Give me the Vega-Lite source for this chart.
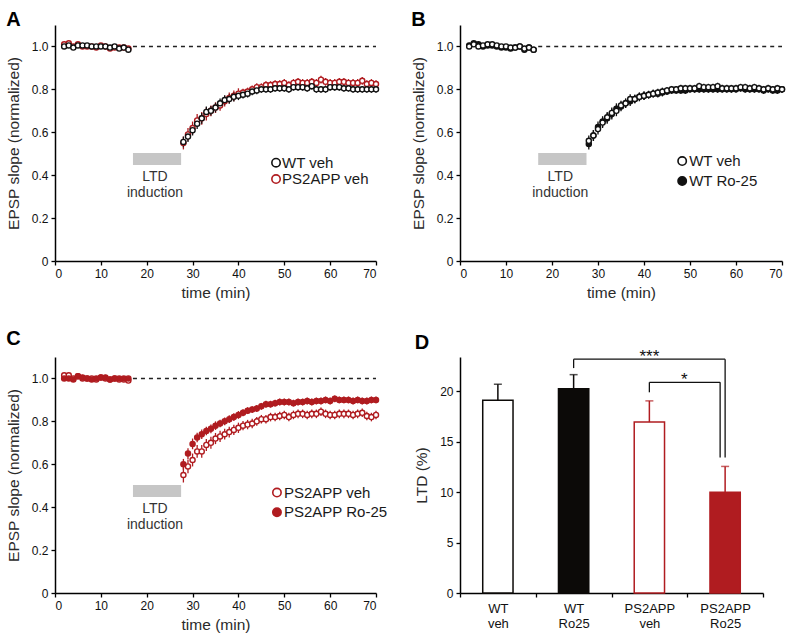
{
"$schema": "https://vega.github.io/schema/vega-lite/v6.json",
"padding": {"left": 6, "top": 10, "right": 5, "bottom": 5},
"bounds": "flush",
"columns": 2,
"spacing": {"row": 96, "column": 84},
"resolve": {"scale": {"x": "independent", "y": "independent", "color": "independent", "fill": "independent", "stroke": "independent"}, "axis": {"x": "independent", "y": "independent"}},
"config": {
"font": "Liberation Sans",
"view": {"stroke": null},
"axis": {"grid": false, "domainColor": "#000", "domainWidth": 1.5, "tickColor": "#000", "tickWidth": 1.3, "tickSize": 4, "labelColor": "#111", "labelFontSize": 12, "labelPadding": 3, "titleColor": "#2a2a2a", "titleFontSize": 15.5, "titleFontWeight": 400},
"title": {"fontSize": 20, "fontWeight": "bold", "anchor": "start", "frame": "bounds", "offset": -5, "color": "#000"}
},
"datasets": {
"ann": [{"lab": "LTD induction"}],
"A": [
{"s":"PS2APP veh","t":2,"y":1.01,"e":0.008},{"s":"PS2APP veh","t":3,"y":1.015,"e":0.008},{"s":"PS2APP veh","t":4,"y":1.0,"e":0.008},{"s":"PS2APP veh","t":5,"y":1.01,"e":0.008},{"s":"PS2APP veh","t":6,"y":1.0,"e":0.008},{"s":"PS2APP veh","t":7,"y":1.0,"e":0.008},{"s":"PS2APP veh","t":8,"y":1.0,"e":0.008},{"s":"PS2APP veh","t":9,"y":0.995,"e":0.008},{"s":"PS2APP veh","t":10,"y":1.005,"e":0.008},{"s":"PS2APP veh","t":11,"y":1.0,"e":0.008},{"s":"PS2APP veh","t":12,"y":0.99,"e":0.008},{"s":"PS2APP veh","t":13,"y":0.995,"e":0.008},{"s":"PS2APP veh","t":14,"y":0.995,"e":0.008},{"s":"PS2APP veh","t":15,"y":0.995,"e":0.008},{"s":"PS2APP veh","t":16,"y":0.99,"e":0.008},
{"s":"PS2APP veh","t":28,"y":0.55,"e":0.03},{"s":"PS2APP veh","t":29,"y":0.59,"e":0.03},{"s":"PS2APP veh","t":30,"y":0.62,"e":0.03},{"s":"PS2APP veh","t":31,"y":0.655,"e":0.03},{"s":"PS2APP veh","t":32,"y":0.665,"e":0.03},{"s":"PS2APP veh","t":33,"y":0.685,"e":0.03},{"s":"PS2APP veh","t":34,"y":0.7,"e":0.025},{"s":"PS2APP veh","t":35,"y":0.715,"e":0.025},{"s":"PS2APP veh","t":36,"y":0.725,"e":0.025},{"s":"PS2APP veh","t":37,"y":0.745,"e":0.025},{"s":"PS2APP veh","t":38,"y":0.76,"e":0.025},{"s":"PS2APP veh","t":39,"y":0.77,"e":0.025},{"s":"PS2APP veh","t":40,"y":0.78,"e":0.025},{"s":"PS2APP veh","t":41,"y":0.785,"e":0.018},{"s":"PS2APP veh","t":42,"y":0.79,"e":0.018},{"s":"PS2APP veh","t":43,"y":0.8,"e":0.018},{"s":"PS2APP veh","t":44,"y":0.81,"e":0.018},{"s":"PS2APP veh","t":45,"y":0.81,"e":0.018},{"s":"PS2APP veh","t":46,"y":0.82,"e":0.018},{"s":"PS2APP veh","t":47,"y":0.82,"e":0.018},{"s":"PS2APP veh","t":48,"y":0.825,"e":0.018},{"s":"PS2APP veh","t":49,"y":0.825,"e":0.018},{"s":"PS2APP veh","t":50,"y":0.83,"e":0.018},{"s":"PS2APP veh","t":51,"y":0.82,"e":0.018},{"s":"PS2APP veh","t":52,"y":0.83,"e":0.018},{"s":"PS2APP veh","t":53,"y":0.835,"e":0.018},{"s":"PS2APP veh","t":54,"y":0.83,"e":0.018},{"s":"PS2APP veh","t":55,"y":0.83,"e":0.018},{"s":"PS2APP veh","t":56,"y":0.835,"e":0.018},{"s":"PS2APP veh","t":57,"y":0.83,"e":0.018},{"s":"PS2APP veh","t":58,"y":0.845,"e":0.018},{"s":"PS2APP veh","t":59,"y":0.835,"e":0.018},{"s":"PS2APP veh","t":60,"y":0.83,"e":0.018},{"s":"PS2APP veh","t":61,"y":0.83,"e":0.018},{"s":"PS2APP veh","t":62,"y":0.835,"e":0.018},{"s":"PS2APP veh","t":63,"y":0.835,"e":0.018},{"s":"PS2APP veh","t":64,"y":0.83,"e":0.018},{"s":"PS2APP veh","t":65,"y":0.83,"e":0.018},{"s":"PS2APP veh","t":66,"y":0.83,"e":0.018},{"s":"PS2APP veh","t":67,"y":0.84,"e":0.018},{"s":"PS2APP veh","t":68,"y":0.825,"e":0.018},{"s":"PS2APP veh","t":69,"y":0.83,"e":0.018},{"s":"PS2APP veh","t":70,"y":0.825,"e":0.018},
{"s":"WT veh","t":2,"y":1.0,"e":0.008},{"s":"WT veh","t":3,"y":1.005,"e":0.008},{"s":"WT veh","t":4,"y":0.995,"e":0.008},{"s":"WT veh","t":5,"y":1.005,"e":0.008},{"s":"WT veh","t":6,"y":1.005,"e":0.008},{"s":"WT veh","t":7,"y":1.005,"e":0.008},{"s":"WT veh","t":8,"y":1.0,"e":0.008},{"s":"WT veh","t":9,"y":1.0,"e":0.008},{"s":"WT veh","t":10,"y":1.0,"e":0.008},{"s":"WT veh","t":11,"y":1.0,"e":0.008},{"s":"WT veh","t":12,"y":0.995,"e":0.008},{"s":"WT veh","t":13,"y":1.0,"e":0.008},{"s":"WT veh","t":14,"y":0.99,"e":0.008},{"s":"WT veh","t":15,"y":0.995,"e":0.008},{"s":"WT veh","t":16,"y":0.985,"e":0.008},
{"s":"WT veh","t":28,"y":0.555,"e":0.025},{"s":"WT veh","t":29,"y":0.58,"e":0.025},{"s":"WT veh","t":30,"y":0.61,"e":0.025},{"s":"WT veh","t":31,"y":0.64,"e":0.025},{"s":"WT veh","t":32,"y":0.665,"e":0.025},{"s":"WT veh","t":33,"y":0.695,"e":0.025},{"s":"WT veh","t":34,"y":0.7,"e":0.022},{"s":"WT veh","t":35,"y":0.715,"e":0.022},{"s":"WT veh","t":36,"y":0.735,"e":0.022},{"s":"WT veh","t":37,"y":0.75,"e":0.022},{"s":"WT veh","t":38,"y":0.755,"e":0.022},{"s":"WT veh","t":39,"y":0.765,"e":0.022},{"s":"WT veh","t":40,"y":0.77,"e":0.02},{"s":"WT veh","t":41,"y":0.775,"e":0.018},{"s":"WT veh","t":42,"y":0.78,"e":0.018},{"s":"WT veh","t":43,"y":0.79,"e":0.018},{"s":"WT veh","t":44,"y":0.795,"e":0.018},{"s":"WT veh","t":45,"y":0.8,"e":0.016},{"s":"WT veh","t":46,"y":0.8,"e":0.016},{"s":"WT veh","t":47,"y":0.8,"e":0.016},{"s":"WT veh","t":48,"y":0.805,"e":0.016},{"s":"WT veh","t":49,"y":0.805,"e":0.016},{"s":"WT veh","t":50,"y":0.805,"e":0.016},{"s":"WT veh","t":51,"y":0.8,"e":0.016},{"s":"WT veh","t":52,"y":0.81,"e":0.016},{"s":"WT veh","t":53,"y":0.81,"e":0.016},{"s":"WT veh","t":54,"y":0.81,"e":0.016},{"s":"WT veh","t":55,"y":0.805,"e":0.016},{"s":"WT veh","t":56,"y":0.815,"e":0.016},{"s":"WT veh","t":57,"y":0.8,"e":0.016},{"s":"WT veh","t":58,"y":0.8,"e":0.016},{"s":"WT veh","t":59,"y":0.8,"e":0.016},{"s":"WT veh","t":60,"y":0.81,"e":0.016},{"s":"WT veh","t":61,"y":0.81,"e":0.016},{"s":"WT veh","t":62,"y":0.81,"e":0.016},{"s":"WT veh","t":63,"y":0.805,"e":0.016},{"s":"WT veh","t":64,"y":0.805,"e":0.016},{"s":"WT veh","t":65,"y":0.8,"e":0.016},{"s":"WT veh","t":66,"y":0.8,"e":0.016},{"s":"WT veh","t":67,"y":0.8,"e":0.016},{"s":"WT veh","t":68,"y":0.8,"e":0.016},{"s":"WT veh","t":69,"y":0.8,"e":0.016},{"s":"WT veh","t":70,"y":0.8,"e":0.016}
],
"B": [
{"s":"WT Ro-25","t":2,"y":1.005,"e":0.008},{"s":"WT Ro-25","t":3,"y":1.015,"e":0.008},{"s":"WT Ro-25","t":4,"y":1.01,"e":0.008},{"s":"WT Ro-25","t":5,"y":1.0,"e":0.008},{"s":"WT Ro-25","t":6,"y":1.005,"e":0.008},{"s":"WT Ro-25","t":7,"y":1.005,"e":0.008},{"s":"WT Ro-25","t":8,"y":1.0,"e":0.008},{"s":"WT Ro-25","t":9,"y":0.995,"e":0.008},{"s":"WT Ro-25","t":10,"y":0.995,"e":0.008},{"s":"WT Ro-25","t":11,"y":0.99,"e":0.008},{"s":"WT Ro-25","t":12,"y":0.995,"e":0.008},{"s":"WT Ro-25","t":13,"y":1.0,"e":0.008},{"s":"WT Ro-25","t":14,"y":0.985,"e":0.008},{"s":"WT Ro-25","t":15,"y":0.995,"e":0.008},{"s":"WT Ro-25","t":16,"y":0.985,"e":0.008},
{"s":"WT Ro-25","t":28,"y":0.545,"e":0.025},{"s":"WT Ro-25","t":29,"y":0.585,"e":0.025},{"s":"WT Ro-25","t":30,"y":0.625,"e":0.025},{"s":"WT Ro-25","t":31,"y":0.65,"e":0.025},{"s":"WT Ro-25","t":32,"y":0.665,"e":0.025},{"s":"WT Ro-25","t":33,"y":0.685,"e":0.025},{"s":"WT Ro-25","t":34,"y":0.71,"e":0.025},{"s":"WT Ro-25","t":35,"y":0.72,"e":0.022},{"s":"WT Ro-25","t":36,"y":0.735,"e":0.022},{"s":"WT Ro-25","t":37,"y":0.745,"e":0.022},{"s":"WT Ro-25","t":38,"y":0.755,"e":0.02},{"s":"WT Ro-25","t":39,"y":0.765,"e":0.02},{"s":"WT Ro-25","t":40,"y":0.77,"e":0.02},{"s":"WT Ro-25","t":41,"y":0.775,"e":0.018},{"s":"WT Ro-25","t":42,"y":0.78,"e":0.018},{"s":"WT Ro-25","t":43,"y":0.78,"e":0.018},{"s":"WT Ro-25","t":44,"y":0.785,"e":0.018},{"s":"WT Ro-25","t":45,"y":0.79,"e":0.016},{"s":"WT Ro-25","t":46,"y":0.795,"e":0.016},{"s":"WT Ro-25","t":47,"y":0.795,"e":0.016},{"s":"WT Ro-25","t":48,"y":0.795,"e":0.016},{"s":"WT Ro-25","t":49,"y":0.795,"e":0.016},{"s":"WT Ro-25","t":50,"y":0.8,"e":0.016},{"s":"WT Ro-25","t":51,"y":0.8,"e":0.016},{"s":"WT Ro-25","t":52,"y":0.8,"e":0.016},{"s":"WT Ro-25","t":53,"y":0.8,"e":0.016},{"s":"WT Ro-25","t":54,"y":0.8,"e":0.016},{"s":"WT Ro-25","t":55,"y":0.8,"e":0.016},{"s":"WT Ro-25","t":56,"y":0.8,"e":0.016},{"s":"WT Ro-25","t":57,"y":0.8,"e":0.016},{"s":"WT Ro-25","t":58,"y":0.8,"e":0.016},{"s":"WT Ro-25","t":59,"y":0.8,"e":0.016},{"s":"WT Ro-25","t":60,"y":0.8,"e":0.016},{"s":"WT Ro-25","t":61,"y":0.805,"e":0.016},{"s":"WT Ro-25","t":62,"y":0.8,"e":0.016},{"s":"WT Ro-25","t":63,"y":0.8,"e":0.016},{"s":"WT Ro-25","t":64,"y":0.8,"e":0.016},{"s":"WT Ro-25","t":65,"y":0.8,"e":0.016},{"s":"WT Ro-25","t":66,"y":0.795,"e":0.016},{"s":"WT Ro-25","t":67,"y":0.8,"e":0.016},{"s":"WT Ro-25","t":68,"y":0.795,"e":0.016},{"s":"WT Ro-25","t":69,"y":0.795,"e":0.016},{"s":"WT Ro-25","t":70,"y":0.8,"e":0.016},
{"s":"WT veh","t":2,"y":1.0,"e":0.008},{"s":"WT veh","t":3,"y":1.01,"e":0.008},{"s":"WT veh","t":4,"y":1.0,"e":0.008},{"s":"WT veh","t":5,"y":1.005,"e":0.008},{"s":"WT veh","t":6,"y":1.01,"e":0.008},{"s":"WT veh","t":7,"y":1.01,"e":0.008},{"s":"WT veh","t":8,"y":1.005,"e":0.008},{"s":"WT veh","t":9,"y":1.0,"e":0.008},{"s":"WT veh","t":10,"y":1.0,"e":0.008},{"s":"WT veh","t":11,"y":0.995,"e":0.008},{"s":"WT veh","t":12,"y":0.995,"e":0.008},{"s":"WT veh","t":13,"y":1.0,"e":0.008},{"s":"WT veh","t":14,"y":0.99,"e":0.008},{"s":"WT veh","t":15,"y":0.995,"e":0.008},{"s":"WT veh","t":16,"y":0.985,"e":0.008},
{"s":"WT veh","t":28,"y":0.56,"e":0.025},{"s":"WT veh","t":29,"y":0.585,"e":0.025},{"s":"WT veh","t":30,"y":0.615,"e":0.025},{"s":"WT veh","t":31,"y":0.645,"e":0.025},{"s":"WT veh","t":32,"y":0.67,"e":0.025},{"s":"WT veh","t":33,"y":0.69,"e":0.025},{"s":"WT veh","t":34,"y":0.7,"e":0.025},{"s":"WT veh","t":35,"y":0.725,"e":0.022},{"s":"WT veh","t":36,"y":0.735,"e":0.022},{"s":"WT veh","t":37,"y":0.755,"e":0.022},{"s":"WT veh","t":38,"y":0.755,"e":0.02},{"s":"WT veh","t":39,"y":0.765,"e":0.02},{"s":"WT veh","t":40,"y":0.77,"e":0.02},{"s":"WT veh","t":41,"y":0.775,"e":0.018},{"s":"WT veh","t":42,"y":0.78,"e":0.018},{"s":"WT veh","t":43,"y":0.785,"e":0.018},{"s":"WT veh","t":44,"y":0.79,"e":0.018},{"s":"WT veh","t":45,"y":0.795,"e":0.016},{"s":"WT veh","t":46,"y":0.8,"e":0.016},{"s":"WT veh","t":47,"y":0.8,"e":0.016},{"s":"WT veh","t":48,"y":0.805,"e":0.016},{"s":"WT veh","t":49,"y":0.805,"e":0.016},{"s":"WT veh","t":50,"y":0.805,"e":0.016},{"s":"WT veh","t":51,"y":0.805,"e":0.016},{"s":"WT veh","t":52,"y":0.815,"e":0.016},{"s":"WT veh","t":53,"y":0.81,"e":0.016},{"s":"WT veh","t":54,"y":0.81,"e":0.016},{"s":"WT veh","t":55,"y":0.81,"e":0.016},{"s":"WT veh","t":56,"y":0.815,"e":0.016},{"s":"WT veh","t":57,"y":0.805,"e":0.016},{"s":"WT veh","t":58,"y":0.805,"e":0.016},{"s":"WT veh","t":59,"y":0.805,"e":0.016},{"s":"WT veh","t":60,"y":0.805,"e":0.016},{"s":"WT veh","t":61,"y":0.81,"e":0.016},{"s":"WT veh","t":62,"y":0.81,"e":0.016},{"s":"WT veh","t":63,"y":0.805,"e":0.016},{"s":"WT veh","t":64,"y":0.81,"e":0.016},{"s":"WT veh","t":65,"y":0.805,"e":0.016},{"s":"WT veh","t":66,"y":0.8,"e":0.016},{"s":"WT veh","t":67,"y":0.805,"e":0.016},{"s":"WT veh","t":68,"y":0.8,"e":0.016},{"s":"WT veh","t":69,"y":0.805,"e":0.016},{"s":"WT veh","t":70,"y":0.8,"e":0.016}
],
"C": [
{"s":"PS2APP veh","t":2,"y":1.015,"e":0.008},{"s":"PS2APP veh","t":3,"y":1.015,"e":0.008},{"s":"PS2APP veh","t":4,"y":1.0,"e":0.008},{"s":"PS2APP veh","t":5,"y":1.01,"e":0.008},{"s":"PS2APP veh","t":6,"y":1.0,"e":0.008},{"s":"PS2APP veh","t":7,"y":1.0,"e":0.008},{"s":"PS2APP veh","t":8,"y":1.0,"e":0.008},{"s":"PS2APP veh","t":9,"y":0.995,"e":0.008},{"s":"PS2APP veh","t":10,"y":1.005,"e":0.008},{"s":"PS2APP veh","t":11,"y":1.0,"e":0.008},{"s":"PS2APP veh","t":12,"y":0.995,"e":0.008},{"s":"PS2APP veh","t":13,"y":1.0,"e":0.008},{"s":"PS2APP veh","t":14,"y":0.995,"e":0.008},{"s":"PS2APP veh","t":15,"y":0.995,"e":0.008},{"s":"PS2APP veh","t":16,"y":0.99,"e":0.008},
{"s":"PS2APP veh","t":28,"y":0.55,"e":0.035},{"s":"PS2APP veh","t":29,"y":0.59,"e":0.032},{"s":"PS2APP veh","t":30,"y":0.62,"e":0.03},{"s":"PS2APP veh","t":31,"y":0.66,"e":0.03},{"s":"PS2APP veh","t":32,"y":0.66,"e":0.03},{"s":"PS2APP veh","t":33,"y":0.69,"e":0.028},{"s":"PS2APP veh","t":34,"y":0.7,"e":0.028},{"s":"PS2APP veh","t":35,"y":0.72,"e":0.026},{"s":"PS2APP veh","t":36,"y":0.73,"e":0.026},{"s":"PS2APP veh","t":37,"y":0.74,"e":0.025},{"s":"PS2APP veh","t":38,"y":0.75,"e":0.025},{"s":"PS2APP veh","t":39,"y":0.76,"e":0.024},{"s":"PS2APP veh","t":40,"y":0.77,"e":0.024},{"s":"PS2APP veh","t":41,"y":0.78,"e":0.022},{"s":"PS2APP veh","t":42,"y":0.785,"e":0.022},{"s":"PS2APP veh","t":43,"y":0.79,"e":0.022},{"s":"PS2APP veh","t":44,"y":0.8,"e":0.02},{"s":"PS2APP veh","t":45,"y":0.81,"e":0.02},{"s":"PS2APP veh","t":46,"y":0.81,"e":0.02},{"s":"PS2APP veh","t":47,"y":0.82,"e":0.02},{"s":"PS2APP veh","t":48,"y":0.82,"e":0.02},{"s":"PS2APP veh","t":49,"y":0.825,"e":0.02},{"s":"PS2APP veh","t":50,"y":0.83,"e":0.02},{"s":"PS2APP veh","t":51,"y":0.82,"e":0.02},{"s":"PS2APP veh","t":52,"y":0.83,"e":0.02},{"s":"PS2APP veh","t":53,"y":0.835,"e":0.02},{"s":"PS2APP veh","t":54,"y":0.835,"e":0.02},{"s":"PS2APP veh","t":55,"y":0.83,"e":0.02},{"s":"PS2APP veh","t":56,"y":0.835,"e":0.02},{"s":"PS2APP veh","t":57,"y":0.835,"e":0.02},{"s":"PS2APP veh","t":58,"y":0.845,"e":0.02},{"s":"PS2APP veh","t":59,"y":0.835,"e":0.02},{"s":"PS2APP veh","t":60,"y":0.83,"e":0.02},{"s":"PS2APP veh","t":61,"y":0.83,"e":0.02},{"s":"PS2APP veh","t":62,"y":0.835,"e":0.02},{"s":"PS2APP veh","t":63,"y":0.835,"e":0.02},{"s":"PS2APP veh","t":64,"y":0.835,"e":0.02},{"s":"PS2APP veh","t":65,"y":0.83,"e":0.02},{"s":"PS2APP veh","t":66,"y":0.835,"e":0.02},{"s":"PS2APP veh","t":67,"y":0.84,"e":0.02},{"s":"PS2APP veh","t":68,"y":0.825,"e":0.02},{"s":"PS2APP veh","t":69,"y":0.82,"e":0.02},{"s":"PS2APP veh","t":70,"y":0.83,"e":0.02},
{"s":"PS2APP Ro-25","t":2,"y":1.0,"e":0.008},{"s":"PS2APP Ro-25","t":3,"y":1.0,"e":0.008},{"s":"PS2APP Ro-25","t":4,"y":0.995,"e":0.008},{"s":"PS2APP Ro-25","t":5,"y":1.01,"e":0.008},{"s":"PS2APP Ro-25","t":6,"y":1.005,"e":0.008},{"s":"PS2APP Ro-25","t":7,"y":1.0,"e":0.008},{"s":"PS2APP Ro-25","t":8,"y":0.995,"e":0.008},{"s":"PS2APP Ro-25","t":9,"y":1.0,"e":0.008},{"s":"PS2APP Ro-25","t":10,"y":1.005,"e":0.008},{"s":"PS2APP Ro-25","t":11,"y":1.005,"e":0.008},{"s":"PS2APP Ro-25","t":12,"y":0.995,"e":0.008},{"s":"PS2APP Ro-25","t":13,"y":1.0,"e":0.008},{"s":"PS2APP Ro-25","t":14,"y":1.0,"e":0.008},{"s":"PS2APP Ro-25","t":15,"y":1.0,"e":0.008},{"s":"PS2APP Ro-25","t":16,"y":1.0,"e":0.008},
{"s":"PS2APP Ro-25","t":28,"y":0.6,"e":0.025},{"s":"PS2APP Ro-25","t":29,"y":0.65,"e":0.025},{"s":"PS2APP Ro-25","t":30,"y":0.695,"e":0.025},{"s":"PS2APP Ro-25","t":31,"y":0.725,"e":0.022},{"s":"PS2APP Ro-25","t":32,"y":0.74,"e":0.022},{"s":"PS2APP Ro-25","t":33,"y":0.755,"e":0.02},{"s":"PS2APP Ro-25","t":34,"y":0.765,"e":0.02},{"s":"PS2APP Ro-25","t":35,"y":0.78,"e":0.02},{"s":"PS2APP Ro-25","t":36,"y":0.79,"e":0.018},{"s":"PS2APP Ro-25","t":37,"y":0.8,"e":0.018},{"s":"PS2APP Ro-25","t":38,"y":0.81,"e":0.018},{"s":"PS2APP Ro-25","t":39,"y":0.82,"e":0.018},{"s":"PS2APP Ro-25","t":40,"y":0.83,"e":0.018},{"s":"PS2APP Ro-25","t":41,"y":0.84,"e":0.016},{"s":"PS2APP Ro-25","t":42,"y":0.85,"e":0.016},{"s":"PS2APP Ro-25","t":43,"y":0.855,"e":0.016},{"s":"PS2APP Ro-25","t":44,"y":0.86,"e":0.016},{"s":"PS2APP Ro-25","t":45,"y":0.87,"e":0.016},{"s":"PS2APP Ro-25","t":46,"y":0.88,"e":0.016},{"s":"PS2APP Ro-25","t":47,"y":0.88,"e":0.016},{"s":"PS2APP Ro-25","t":48,"y":0.885,"e":0.016},{"s":"PS2APP Ro-25","t":49,"y":0.89,"e":0.016},{"s":"PS2APP Ro-25","t":50,"y":0.89,"e":0.016},{"s":"PS2APP Ro-25","t":51,"y":0.89,"e":0.016},{"s":"PS2APP Ro-25","t":52,"y":0.885,"e":0.016},{"s":"PS2APP Ro-25","t":53,"y":0.89,"e":0.016},{"s":"PS2APP Ro-25","t":54,"y":0.89,"e":0.016},{"s":"PS2APP Ro-25","t":55,"y":0.895,"e":0.016},{"s":"PS2APP Ro-25","t":56,"y":0.89,"e":0.016},{"s":"PS2APP Ro-25","t":57,"y":0.895,"e":0.016},{"s":"PS2APP Ro-25","t":58,"y":0.895,"e":0.016},{"s":"PS2APP Ro-25","t":59,"y":0.9,"e":0.016},{"s":"PS2APP Ro-25","t":60,"y":0.895,"e":0.016},{"s":"PS2APP Ro-25","t":61,"y":0.905,"e":0.016},{"s":"PS2APP Ro-25","t":62,"y":0.9,"e":0.016},{"s":"PS2APP Ro-25","t":63,"y":0.9,"e":0.016},{"s":"PS2APP Ro-25","t":64,"y":0.9,"e":0.016},{"s":"PS2APP Ro-25","t":65,"y":0.895,"e":0.016},{"s":"PS2APP Ro-25","t":66,"y":0.9,"e":0.016},{"s":"PS2APP Ro-25","t":67,"y":0.895,"e":0.016},{"s":"PS2APP Ro-25","t":68,"y":0.895,"e":0.016},{"s":"PS2APP Ro-25","t":69,"y":0.9,"e":0.016},{"s":"PS2APP Ro-25","t":70,"y":0.9,"e":0.016}
],
"D": [
{"g":"WT veh","v":19.1,"hi":20.7},
{"g":"WT Ro25","v":20.25,"hi":21.65},
{"g":"PS2APP veh","v":16.95,"hi":19.05},
{"g":"PS2APP Ro25","v":10.0,"hi":12.55}
]
},
"concat": [
{
"title": "A",
"width": 321, "height": 236,
"layer": [
{"data": {"name": "ann"}, "mark": {"type": "rule", "strokeDash": [4, 4], "strokeWidth": 1.5, "color": "#222"}, "encoding": {"x": {"datum": 17, "type": "quantitative", "scale": {"domain": [0, 70], "nice": false}, "axis": {"values": [0,10,20,30,40,50,60,70], "title": "time (min)", "titlePadding": 6}}, "x2": {"datum": 70}, "y": {"datum": 1, "type": "quantitative", "scale": {"domain": [0, 1.1], "nice": false}, "axis": {"values": [0,0.1,0.2,0.3,0.4,0.5,0.6,0.7,0.8,0.9,1.0,1.1], "labelExpr": "datum.value == 0 ? '0' : (round(datum.value*10) % 2 == 0 ? format(datum.value, '.1f') : '')", "title": "EPSP slope (normalized)", "titlePadding": 10}}}},
{"data": {"name": "ann"}, "mark": {"type": "rect", "color": "#c6c6c6"}, "encoding": {"x": {"datum": 17, "type": "quantitative"}, "x2": {"datum": 27.5}, "y": {"datum": 0.448, "type": "quantitative"}, "y2": {"datum": 0.503}}},
{"data": {"name": "ann"}, "mark": {"type": "text", "fontSize": 14, "color": "#333", "baseline": "top", "lineHeight": 16, "align": "center"}, "encoding": {"x": {"datum": 21.8, "type": "quantitative"}, "y": {"datum": 0.425, "type": "quantitative"}, "text": {"value": ["LTD", "induction"]}}},
{"data": {"name": "A"}, "mark": {"type": "errorbar", "thickness": 1.3}, "encoding": {"x": {"field": "t", "type": "quantitative", "title": "time (min)"}, "y": {"field": "y", "type": "quantitative", "title": "EPSP slope (normalized)"}, "yError": {"field": "e"}, "color": {"field": "s", "type": "nominal", "scale": {"domain": ["WT veh", "PS2APP veh"], "range": ["#111", "#b01c20"]}, "legend": null}}},
{"data": {"name": "A"}, "mark": {"type": "circle", "size": 26, "strokeWidth": 1.4, "opacity": 1}, "encoding": {
"x": {"field": "t", "type": "quantitative", "title": "time (min)"}, "y": {"field": "y", "type": "quantitative", "title": "EPSP slope (normalized)"},
"fill": {"field": "s", "type": "nominal", "scale": {"domain": ["WT veh", "PS2APP veh"], "range": ["#fff", "#fff"]}, "legend": null},
"stroke": {"field": "s", "type": "nominal", "scale": {"domain": ["WT veh", "PS2APP veh"], "range": ["#111", "#b01c20"]}, "legend": null}}},
{"data": {"name": "ann"}, "mark": {"type": "circle", "size": 70, "strokeWidth": 1.6, "opacity": 1}, "encoding": {"x": {"datum": 48.2, "type": "quantitative"}, "y": {"datum": 0.458, "type": "quantitative"}, "fill": {"datum": "WT veh", "type": "nominal"}, "stroke": {"datum": "WT veh", "type": "nominal"}}},
{"data": {"name": "ann"}, "mark": {"type": "circle", "size": 70, "strokeWidth": 1.6, "opacity": 1}, "encoding": {"x": {"datum": 48.2, "type": "quantitative"}, "y": {"datum": 0.382, "type": "quantitative"}, "fill": {"datum": "PS2APP veh", "type": "nominal"}, "stroke": {"datum": "PS2APP veh", "type": "nominal"}}},
{"data": {"name": "ann"}, "mark": {"type": "text", "fontSize": 15, "color": "#1a1a1a", "align": "left", "baseline": "middle", "dx": 6}, "encoding": {"x": {"datum": 48.2, "type": "quantitative"}, "y": {"datum": 0.458, "type": "quantitative"}, "text": {"value": "WT veh"}}},
{"data": {"name": "ann"}, "mark": {"type": "text", "fontSize": 15, "color": "#1a1a1a", "align": "left", "baseline": "middle", "dx": 6}, "encoding": {"x": {"datum": 48.2, "type": "quantitative"}, "y": {"datum": 0.382, "type": "quantitative"}, "text": {"value": "PS2APP veh"}}}
]
},
{
"title": "B",
"width": 322, "height": 236,
"layer": [
{"data": {"name": "ann"}, "mark": {"type": "rule", "strokeDash": [4, 4], "strokeWidth": 1.5, "color": "#222"}, "encoding": {"x": {"datum": 17, "type": "quantitative", "scale": {"domain": [0, 70], "nice": false}, "axis": {"values": [0,10,20,30,40,50,60,70], "title": "time (min)", "titlePadding": 6}}, "x2": {"datum": 70}, "y": {"datum": 1, "type": "quantitative", "scale": {"domain": [0, 1.1], "nice": false}, "axis": {"values": [0,0.1,0.2,0.3,0.4,0.5,0.6,0.7,0.8,0.9,1.0,1.1], "labelExpr": "datum.value == 0 ? '0' : (round(datum.value*10) % 2 == 0 ? format(datum.value, '.1f') : '')", "title": "EPSP slope (normalized)", "titlePadding": 10}}}},
{"data": {"name": "ann"}, "mark": {"type": "rect", "color": "#c6c6c6"}, "encoding": {"x": {"datum": 17, "type": "quantitative"}, "x2": {"datum": 27.5}, "y": {"datum": 0.448, "type": "quantitative"}, "y2": {"datum": 0.503}}},
{"data": {"name": "ann"}, "mark": {"type": "text", "fontSize": 14, "color": "#333", "baseline": "top", "lineHeight": 16, "align": "center"}, "encoding": {"x": {"datum": 21.8, "type": "quantitative"}, "y": {"datum": 0.425, "type": "quantitative"}, "text": {"value": ["LTD", "induction"]}}},
{"data": {"name": "B"}, "mark": {"type": "errorbar", "thickness": 1.3}, "encoding": {"x": {"field": "t", "type": "quantitative", "title": "time (min)"}, "y": {"field": "y", "type": "quantitative", "title": "EPSP slope (normalized)"}, "yError": {"field": "e"}, "color": {"field": "s", "type": "nominal", "scale": {"domain": ["WT veh", "WT Ro-25"], "range": ["#111", "#111"]}, "legend": null}}},
{"data": {"name": "B"}, "mark": {"type": "circle", "size": 26, "strokeWidth": 1.4, "opacity": 1}, "encoding": {
"x": {"field": "t", "type": "quantitative", "title": "time (min)"}, "y": {"field": "y", "type": "quantitative", "title": "EPSP slope (normalized)"},
"fill": {"field": "s", "type": "nominal", "scale": {"domain": ["WT veh", "WT Ro-25"], "range": ["#fff", "#111"]}, "legend": null},
"stroke": {"field": "s", "type": "nominal", "scale": {"domain": ["WT veh", "WT Ro-25"], "range": ["#111", "#111"]}, "legend": null}}},
{"data": {"name": "ann"}, "mark": {"type": "circle", "size": 70, "strokeWidth": 1.6, "opacity": 1}, "encoding": {"x": {"datum": 48.3, "type": "quantitative"}, "y": {"datum": 0.466, "type": "quantitative"}, "fill": {"datum": "WT veh", "type": "nominal"}, "stroke": {"datum": "WT veh", "type": "nominal"}}},
{"data": {"name": "ann"}, "mark": {"type": "circle", "size": 70, "strokeWidth": 1.6, "opacity": 1}, "encoding": {"x": {"datum": 48.3, "type": "quantitative"}, "y": {"datum": 0.373, "type": "quantitative"}, "fill": {"datum": "WT Ro-25", "type": "nominal"}, "stroke": {"datum": "WT Ro-25", "type": "nominal"}}},
{"data": {"name": "ann"}, "mark": {"type": "text", "fontSize": 15, "color": "#1a1a1a", "align": "left", "baseline": "middle", "dx": 7}, "encoding": {"x": {"datum": 48.3, "type": "quantitative"}, "y": {"datum": 0.466, "type": "quantitative"}, "text": {"value": "WT veh"}}},
{"data": {"name": "ann"}, "mark": {"type": "text", "fontSize": 15, "color": "#1a1a1a", "align": "left", "baseline": "middle", "dx": 7}, "encoding": {"x": {"datum": 48.3, "type": "quantitative"}, "y": {"datum": 0.373, "type": "quantitative"}, "text": {"value": "WT Ro-25"}}}
]
},
{
"title": {"text": "C", "offset": 8},
"width": 321, "height": 236,
"layer": [
{"data": {"name": "ann"}, "mark": {"type": "rule", "strokeDash": [4, 4], "strokeWidth": 1.5, "color": "#222"}, "encoding": {"x": {"datum": 17, "type": "quantitative", "scale": {"domain": [0, 70], "nice": false}, "axis": {"values": [0,10,20,30,40,50,60,70], "title": "time (min)", "titlePadding": 6}}, "x2": {"datum": 70}, "y": {"datum": 1, "type": "quantitative", "scale": {"domain": [0, 1.1], "nice": false}, "axis": {"values": [0,0.1,0.2,0.3,0.4,0.5,0.6,0.7,0.8,0.9,1.0,1.1], "labelExpr": "datum.value == 0 ? '0' : (round(datum.value*10) % 2 == 0 ? format(datum.value, '.1f') : '')", "title": "EPSP slope (normalized)", "titlePadding": 10}}}},
{"data": {"name": "ann"}, "mark": {"type": "rect", "color": "#c6c6c6"}, "encoding": {"x": {"datum": 17, "type": "quantitative"}, "x2": {"datum": 27.5}, "y": {"datum": 0.448, "type": "quantitative"}, "y2": {"datum": 0.503}}},
{"data": {"name": "ann"}, "mark": {"type": "text", "fontSize": 14, "color": "#333", "baseline": "top", "lineHeight": 16, "align": "center"}, "encoding": {"x": {"datum": 21.8, "type": "quantitative"}, "y": {"datum": 0.425, "type": "quantitative"}, "text": {"value": ["LTD", "induction"]}}},
{"data": {"name": "C"}, "mark": {"type": "errorbar", "thickness": 1.3}, "encoding": {"x": {"field": "t", "type": "quantitative", "title": "time (min)"}, "y": {"field": "y", "type": "quantitative", "title": "EPSP slope (normalized)"}, "yError": {"field": "e"}, "color": {"field": "s", "type": "nominal", "scale": {"domain": ["PS2APP veh", "PS2APP Ro-25"], "range": ["#b01c20", "#b01c20"]}, "legend": null}}},
{"data": {"name": "C"}, "mark": {"type": "circle", "size": 26, "strokeWidth": 1.4, "opacity": 1}, "encoding": {
"x": {"field": "t", "type": "quantitative", "title": "time (min)"}, "y": {"field": "y", "type": "quantitative", "title": "EPSP slope (normalized)"},
"fill": {"field": "s", "type": "nominal", "scale": {"domain": ["PS2APP veh", "PS2APP Ro-25"], "range": ["#fff", "#b01c20"]}, "legend": null},
"stroke": {"field": "s", "type": "nominal", "scale": {"domain": ["PS2APP veh", "PS2APP Ro-25"], "range": ["#b01c20", "#b01c20"]}, "legend": null}}},
{"data": {"name": "ann"}, "mark": {"type": "circle", "size": 70, "strokeWidth": 1.6, "opacity": 1}, "encoding": {"x": {"datum": 48.4, "type": "quantitative"}, "y": {"datum": 0.468, "type": "quantitative"}, "fill": {"datum": "PS2APP veh", "type": "nominal"}, "stroke": {"datum": "PS2APP veh", "type": "nominal"}}},
{"data": {"name": "ann"}, "mark": {"type": "circle", "size": 70, "strokeWidth": 1.6, "opacity": 1}, "encoding": {"x": {"datum": 48.4, "type": "quantitative"}, "y": {"datum": 0.376, "type": "quantitative"}, "fill": {"datum": "PS2APP Ro-25", "type": "nominal"}, "stroke": {"datum": "PS2APP Ro-25", "type": "nominal"}}},
{"data": {"name": "ann"}, "mark": {"type": "text", "fontSize": 15, "color": "#1a1a1a", "align": "left", "baseline": "middle", "dx": 7}, "encoding": {"x": {"datum": 48.4, "type": "quantitative"}, "y": {"datum": 0.468, "type": "quantitative"}, "text": {"value": "PS2APP veh"}}},
{"data": {"name": "ann"}, "mark": {"type": "text", "fontSize": 15, "color": "#1a1a1a", "align": "left", "baseline": "middle", "dx": 7}, "encoding": {"x": {"datum": 48.4, "type": "quantitative"}, "y": {"datum": 0.376, "type": "quantitative"}, "text": {"value": "PS2APP Ro-25"}}}
]
},
{
"title": "D",
"width": 303, "height": 236,
"data": {"name": "D"},
"encoding": {
"x": {"field": "g", "type": "nominal", "sort": null, "scale": {"domain": ["WT veh", "WT Ro25", "PS2APP veh", "PS2APP Ro25"], "paddingInner": 0, "paddingOuter": 0}, "axis": {"title": null, "labelAngle": 0, "labelExpr": "split(datum.label, ' ')", "labelFontSize": 13, "labelLineHeight": 15.6, "labelPadding": 5, "tickBand": "extent"}},
"y": {"field": "v", "type": "quantitative", "scale": {"domain": [0, 23.4], "nice": false}, "axis": {"values": [0, 5, 10, 15, 20], "title": "LTD (%)", "titlePadding": 10}}
},
"layer": [
{"mark": {"type": "bar", "width": {"band": 0.4}, "strokeWidth": 1.5}, "encoding": {
"fill": {"field": "g", "type": "nominal", "scale": {"domain": ["WT veh", "WT Ro25", "PS2APP veh", "PS2APP Ro25"], "range": ["#fff", "#0c0a08", "#fff", "#b01c20"]}, "legend": null},
"stroke": {"field": "g", "type": "nominal", "scale": {"domain": ["WT veh", "WT Ro25", "PS2APP veh", "PS2APP Ro25"], "range": ["#0c0a08", "#0c0a08", "#b01c20", "#b01c20"]}, "legend": null}}},
{"mark": {"type": "rule", "strokeWidth": 1.5}, "encoding": {"y2": {"field": "hi"}, "color": {"field": "g", "type": "nominal", "scale": {"domain": ["WT veh", "WT Ro25", "PS2APP veh", "PS2APP Ro25"], "range": ["#0c0a08", "#0c0a08", "#b01c20", "#b01c20"]}, "legend": null}}},
{"mark": {"type": "tick", "size": 8, "thickness": 1.5}, "encoding": {"y": {"field": "hi", "type": "quantitative"}, "color": {"field": "g", "type": "nominal", "scale": {"domain": ["WT veh", "WT Ro25", "PS2APP veh", "PS2APP Ro25"], "range": ["#0c0a08", "#0c0a08", "#b01c20", "#b01c20"]}, "legend": null}}},
{"data": {"values": [{"a": "WT Ro25", "lo": 22.3, "up": 23.18}, {"a": "PS2APP Ro25", "lo": 13.43, "up": 23.18}, {"a": "PS2APP veh", "lo": 19.9, "up": 20.89}]}, "mark": {"type": "rule", "strokeWidth": 1.3, "color": "#111"}, "encoding": {"x": {"field": "a", "type": "nominal"}, "y": {"field": "lo", "type": "quantitative"}, "y2": {"field": "up"}}},
{"data": {"values": [{"a": "PS2APP Ro25", "lo": 13.43, "up": 20.89}]}, "mark": {"type": "rule", "strokeWidth": 1.3, "color": "#111", "xOffset": -5}, "encoding": {"x": {"field": "a", "type": "nominal"}, "y": {"field": "lo", "type": "quantitative"}, "y2": {"field": "up"}}},
{"data": {"values": [{"a": "WT Ro25", "b": "PS2APP Ro25", "h": 23.18}]}, "mark": {"type": "rule", "strokeWidth": 1.3, "color": "#111"}, "encoding": {"x": {"field": "a", "type": "nominal"}, "x2": {"field": "b"}, "y": {"field": "h", "type": "quantitative"}}},
{"data": {"values": [{"a": "PS2APP veh", "b": "PS2APP Ro25", "h": 20.89}]}, "mark": {"type": "rule", "strokeWidth": 1.3, "color": "#111", "x2Offset": -5}, "encoding": {"x": {"field": "a", "type": "nominal"}, "x2": {"field": "b"}, "y": {"field": "h", "type": "quantitative"}}},
{"data": {"values": [{"a": "PS2APP veh", "lab": "***", "h": 22.9}]}, "mark": {"type": "text", "fontSize": 17, "color": "#111", "baseline": "alphabetic", "align": "center"}, "encoding": {"x": {"field": "a", "type": "nominal"}, "y": {"field": "h", "type": "quantitative"}, "text": {"field": "lab"}}},
{"data": {"values": [{"a": "PS2APP veh", "lab": "*", "h": 20.6}]}, "mark": {"type": "text", "fontSize": 17, "color": "#111", "baseline": "alphabetic", "align": "center", "dx": -3}, "encoding": {"x": {"field": "a", "type": "nominal", "bandPosition": 1}, "y": {"field": "h", "type": "quantitative"}, "text": {"field": "lab"}}}
]
}
]
}
